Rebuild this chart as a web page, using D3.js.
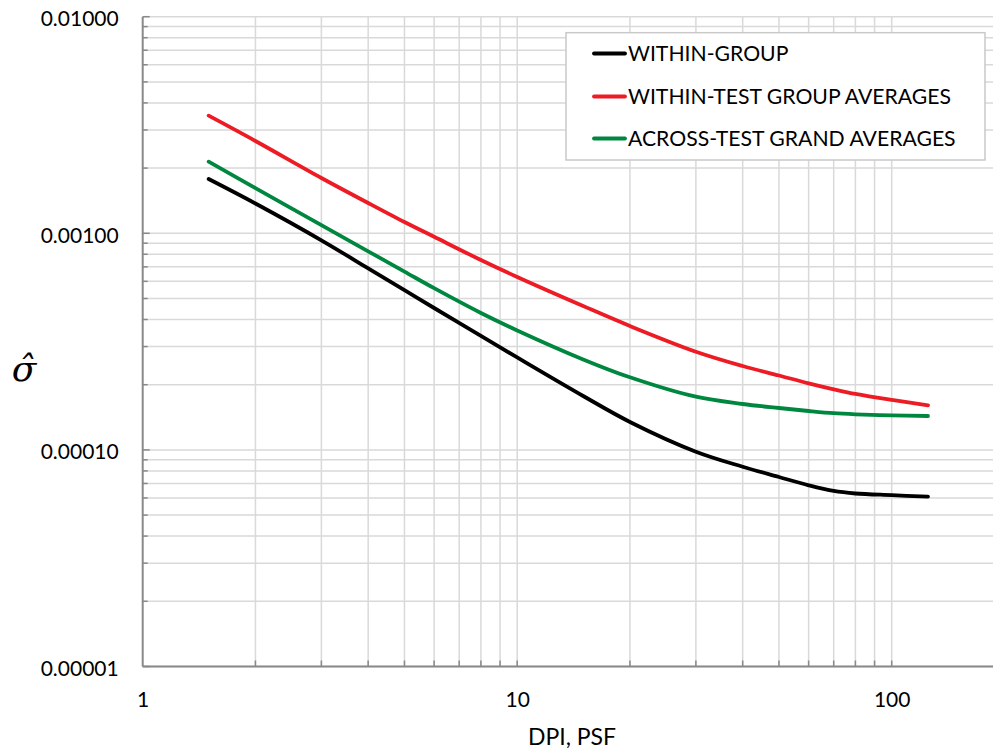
<!DOCTYPE html>
<html>
<head>
<meta charset="utf-8">
<script src="https://cdn.jsdelivr.net/npm/d3@7/dist/d3.min.js"></script>
<style>
  html, body { margin: 0; padding: 0; background: #fff; }
  svg { display: block; }
  text { font-family: Lato, "Open Sans", sans-serif; fill: #000; }
</style>
</head>
<body>
<svg id="chart" width="994" height="753"></svg>
<script>
// ---- data ----
const dpi = [1.5, 2, 3, 4, 5, 6, 8, 10, 15, 20, 30, 40, 50, 60, 70, 80, 100, 125];
const withinGroup = [0.001781, 0.001373, 0.0009284, 0.000689, 0.000546, 0.000452, 0.0003357, 0.0002671,
  0.0001774, 0.0001346, 0.00009811, 0.00008364, 0.00007498, 0.00006865, 0.00006462, 0.00006292, 0.0000618, 0.0000608];
const withinTestAvg = [0.003491, 0.002668, 0.001800, 0.001380, 0.0011276, 0.0009636, 0.0007529, 0.0006286,
  0.0004616, 0.0003733, 0.0002841, 0.000244, 0.0002205, 0.000203, 0.0001905, 0.0001812, 0.00017, 0.0001607];
const acrossTestAvg = [0.002141, 0.001617, 0.0010912, 0.0008259, 0.0006656, 0.000558, 0.0004287, 0.0003562,
  0.0002617, 0.0002164, 0.000176, 0.0001629, 0.0001561, 0.0001512, 0.0001477, 0.000146, 0.0001444, 0.0001434];
const seriesNames = ["WITHIN-GROUP", "WITHIN-TEST GROUP AVERAGES", "ACROSS-TEST GRAND AVERAGES"];
const seriesColors = ["#000000", "#ed1c24", "#00873f"];
const xTickValues = [1, 10, 100];
const xTickLabels = ["1", "10", "100"];
const yTickValues = [0.00001, 0.0001, 0.001, 0.01];
const yTickLabels = ["0.00001", "0.00010", "0.00100", "0.01000"];
const xTitle = "DPI, PSF";
const yTitle = "\u03C3\u0302";

// ---- layout ----
const svg = d3.select("#chart");
const pLeft = 142.7, pRight = 993, pTop = 16.7, pBottom = 666.5;
const xDecade = 374.5;
const xMax = Math.pow(10, (pRight - pLeft) / xDecade);

const x = d3.scaleLog().domain([1, xMax]).range([pLeft, pRight]);
const y = d3.scaleLog().domain([1e-5, 1e-2]).range([pBottom, pTop]);

// minor/major grid values
const xGrid = [];
for (let d = 1; d <= 100; d *= 10) for (let m = 1; m <= 9; m++) { const v = d * m; if (v > 1 && v <= xMax) xGrid.push(v); }
const yGrid = [];
for (let e = -5; e <= -2; e++) for (let m = 1; m <= 9; m++) { const v = m * Math.pow(10, e); if (v <= 0.0100001) yGrid.push(v); }

const gridColor = "#d9d9d9", axisColor = "#898989";

// gridlines
svg.append("g").selectAll("line").data(xGrid).join("line")
  .attr("x1", d => x(d)).attr("x2", d => x(d)).attr("y1", pTop).attr("y2", pBottom)
  .attr("stroke", gridColor).attr("stroke-width", 1.5);
svg.append("g").selectAll("line").data(yGrid).join("line")
  .attr("x1", pLeft).attr("x2", pRight).attr("y1", d => y(d)).attr("y2", d => y(d))
  .attr("stroke", gridColor).attr("stroke-width", 1.5);

// tick marks (inside)
svg.append("g").selectAll("line").data(xGrid).join("line")
  .attr("x1", d => x(d)).attr("x2", d => x(d)).attr("y1", pBottom).attr("y2", pBottom - 6)
  .attr("stroke", axisColor).attr("stroke-width", 1.5);
svg.append("g").selectAll("line").data(yGrid).join("line")
  .attr("x1", pLeft).attr("x2", d => pLeft + (yTickValues.some(t => Math.abs(t - d) / d < 1e-6) ? 7 : 5))
  .attr("y1", d => y(d)).attr("y2", d => y(d))
  .attr("stroke", axisColor).attr("stroke-width", 1.5);

// axis lines
svg.append("line").attr("x1", pLeft).attr("x2", pLeft).attr("y1", pTop).attr("y2", pBottom)
  .attr("stroke", axisColor).attr("stroke-width", 2);
svg.append("line").attr("x1", pLeft).attr("x2", pRight).attr("y1", pBottom).attr("y2", pBottom)
  .attr("stroke", axisColor).attr("stroke-width", 2);

// axis labels via d3 axes
const yAxis = d3.axisLeft(y).tickValues(yTickValues)
  .tickFormat((d, i) => yTickLabels[i]).tickSize(0).tickPadding(24);
const gy = svg.append("g").attr("transform", `translate(${pLeft},0)`).call(yAxis);
gy.select(".domain").remove();
gy.selectAll("text").style("font-family", "Lato, sans-serif").style("font-size", "21px")
  .attr("fill", "#000").attr("dy", "0.42em");

const xAxis = d3.axisBottom(x).tickValues(xTickValues)
  .tickFormat((d, i) => xTickLabels[i]).tickSize(0).tickPadding(26);
const gx = svg.append("g").attr("transform", `translate(0,${pBottom})`).call(xAxis);
gx.select(".domain").remove();
gx.selectAll("text").style("font-family", "Lato, sans-serif").style("font-size", "21px").attr("fill", "#000");

// series lines
const line = d3.line().x((d, i) => x(dpi[i])).y(d => y(d)).curve(d3.curveCatmullRom.alpha(0.5));
const allSeries = [withinGroup, withinTestAvg, acrossTestAvg];
const drawOrder = [1, 2, 0];
drawOrder.forEach(k => {
  svg.append("path").datum(allSeries[k]).attr("d", line)
    .attr("fill", "none").attr("stroke", seriesColors[k]).attr("stroke-width", 3.8)
    .attr("stroke-linecap", "round").attr("stroke-linejoin", "round");
});

// legend
const lg = svg.append("g");
lg.append("rect").attr("x", 566).attr("y", 32.7).attr("width", 419).attr("height", 127.3)
  .attr("fill", "#fff").attr("stroke", "#c9c9c9").attr("stroke-width", 1.5);
const legendRows = [53.5, 96.5, 138.5];
seriesNames.forEach((name, i) => {
  lg.append("line").attr("x1", 594).attr("x2", 625).attr("y1", legendRows[i]).attr("y2", legendRows[i])
    .attr("stroke", seriesColors[i]).attr("stroke-width", 3.8).attr("stroke-linecap", "round");
  lg.append("text").attr("x", 628).attr("y", legendRows[i] + 2.5).attr("dominant-baseline", "middle")
    .style("font-size", "21.2px").text(name);
});

// axis titles
svg.append("text").attr("x", 572).attr("y", 745).attr("text-anchor", "middle")
  .style("font-size", "23px").text(xTitle);

svg.append("text").attr("x", 24).attr("y", 381).attr("text-anchor", "middle")
  .style("font-family", "'DejaVu Serif', serif").style("font-style", "italic").style("font-size", "36px")
  .text(yTitle);
</script>
</body>
</html>
